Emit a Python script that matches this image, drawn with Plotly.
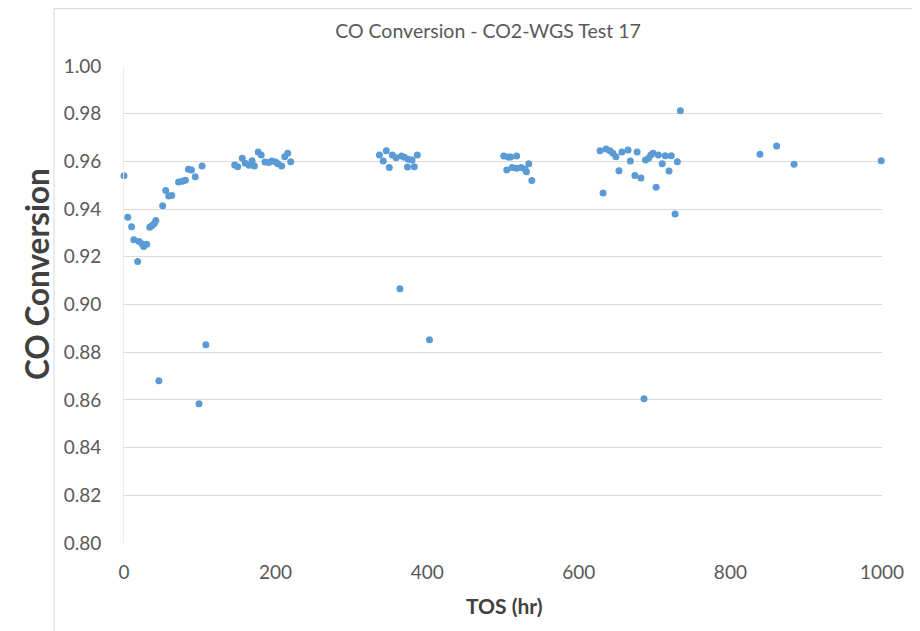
import plotly.graph_objects as go

tos_hr = [0, 5, 10, 13, 18, 20, 24, 26, 30, 34, 37, 40, 42, 46, 51, 55, 59, 63, 72, 77, 81, 85, 89, 94,
          99, 103, 108, 146, 150, 156, 160, 165, 169, 172, 177, 181, 186, 191, 195, 200, 203, 208, 212,
          216, 220,
          337, 342, 346, 350, 354, 359, 364, 366, 370, 374, 375, 380, 383, 387, 403,
          501, 505, 507, 510, 512, 518, 518, 524, 529, 531, 534, 538,
          628, 632, 636, 641, 645, 649, 653, 657, 665, 668, 674, 677, 682, 686, 688, 692, 695, 698,
          702, 705, 710, 714, 719, 722, 727, 730, 734,
          839, 861, 884, 999]
co_conversion = [0.954, 0.9366, 0.9326, 0.9271, 0.918, 0.9264, 0.9254, 0.9243, 0.9253, 0.9324, 0.9331,
                 0.934, 0.9352, 0.868, 0.9414, 0.9478, 0.9455, 0.9457, 0.9514, 0.9517, 0.9521, 0.9567,
                 0.9564, 0.9536, 0.8584, 0.9581, 0.8831, 0.9585, 0.9578, 0.9613, 0.9592, 0.9584, 0.9603,
                 0.9581, 0.9639, 0.9627, 0.9597, 0.9595, 0.9602, 0.9597, 0.959, 0.9581, 0.962, 0.9634,
                 0.9599,
                 0.9627, 0.9602, 0.9645, 0.9574, 0.9627, 0.9615, 0.9066, 0.9623, 0.9617, 0.9576, 0.9609,
                 0.9606, 0.9578, 0.9627, 0.8852,
                 0.9623, 0.9564, 0.9618, 0.9618, 0.9574, 0.9623, 0.9571, 0.9574, 0.9567, 0.9557, 0.959,
                 0.952,
                 0.9645, 0.9467, 0.9652, 0.9645, 0.9634, 0.962, 0.9561, 0.9639, 0.9648, 0.9602, 0.9541,
                 0.9639, 0.953, 0.8605, 0.9606, 0.9613, 0.9627, 0.9634, 0.9492, 0.9627, 0.959, 0.9624,
                 0.956, 0.9624, 0.9379, 0.9599, 0.9812,
                 0.963, 0.9665, 0.9588, 0.9603]

x_ticks = [0, 200, 400, 600, 800, 1000]
y_ticks = [0.80, 0.82, 0.84, 0.86, 0.88, 0.90, 0.92, 0.94, 0.96, 0.98, 1.00]

FONT = "Lato, Open Sans, sans-serif"
GRAY = "#595959"
DARK = "#404040"
GRID = "#d9d9d9"

# page body has an 8px default margin, so the figure is drawn 8px in from the window edge
W, H = 912, 623
ML, MR, MT, MB = 116, 38, 58, 88
PW, PH = W - ML - MR, H - MT - MB


def px_to_paper_x(sx):
    return (sx - 8 - ML) / PW


def px_to_paper_y(sy):
    return (H - MB - (sy - 8)) / PH


fig = go.Figure()
fig.add_trace(go.Scatter(
    x=tos_hr, y=co_conversion, mode="markers",
    marker=dict(color="#5b9bd5", size=7, line=dict(width=0)),
    cliponaxis=False, showlegend=False,
))

fig.update_layout(
    width=W, height=H,
    margin=dict(l=ML, r=MR, t=MT, b=MB, autoexpand=False),
    paper_bgcolor="white", plot_bgcolor="white",
    title=dict(text="CO Conversion - CO2-WGS Test 17", x=(488 - 8) / W, xanchor="center",
               y=1 - (31 - 8) / H, yanchor="middle",
               font=dict(family=FONT, size=19.5, color=GRAY)),
    xaxis=dict(range=[0, 1000], tickvals=x_ticks, ticktext=[str(v) for v in x_ticks],
               showgrid=False, zeroline=False, showline=False, ticks="",
               ticklabelstandoff=16, automargin=False,
               tickfont=dict(family=FONT, size=19, color=GRAY)),
    yaxis=dict(range=[0.80, 1.00], tickvals=y_ticks, ticktext=[f"{v:.2f}" for v in y_ticks],
               showgrid=True, gridcolor=GRID, gridwidth=1, zeroline=False,
               showline=True, linecolor="#ececec", ticks="",
               ticklabelstandoff=18, automargin=False,
               tickfont=dict(family=FONT, size=19, color=GRAY)),
    annotations=[
        dict(text="<b>TOS (hr)</b>", xref="paper", yref="paper",
             x=px_to_paper_x(503.5), y=px_to_paper_y(605), xanchor="center", yanchor="middle",
             showarrow=False, font=dict(family=FONT, size=21, color=DARK)),
        dict(text="<b>CO Conversion</b>", xref="paper", yref="paper", textangle=-90,
             x=px_to_paper_x(37), y=px_to_paper_y(274), xanchor="center", yanchor="middle",
             showarrow=False, font=dict(family=FONT, size=31.5, color=DARK)),
    ],
)

# chart-area frame remnants (left and top edges of the cropped chart frame)
fig.add_shape(type="line", xref="paper", yref="paper",
              x0=px_to_paper_x(54), x1=px_to_paper_x(54), y0=px_to_paper_y(640), y1=px_to_paper_y(8.5),
              line=dict(color=GRID, width=1))
fig.add_shape(type="line", xref="paper", yref="paper",
              x0=px_to_paper_x(54), x1=px_to_paper_x(930), y0=px_to_paper_y(8.5), y1=px_to_paper_y(8.5),
              line=dict(color=GRID, width=1))

fig.write_html("out.html")
